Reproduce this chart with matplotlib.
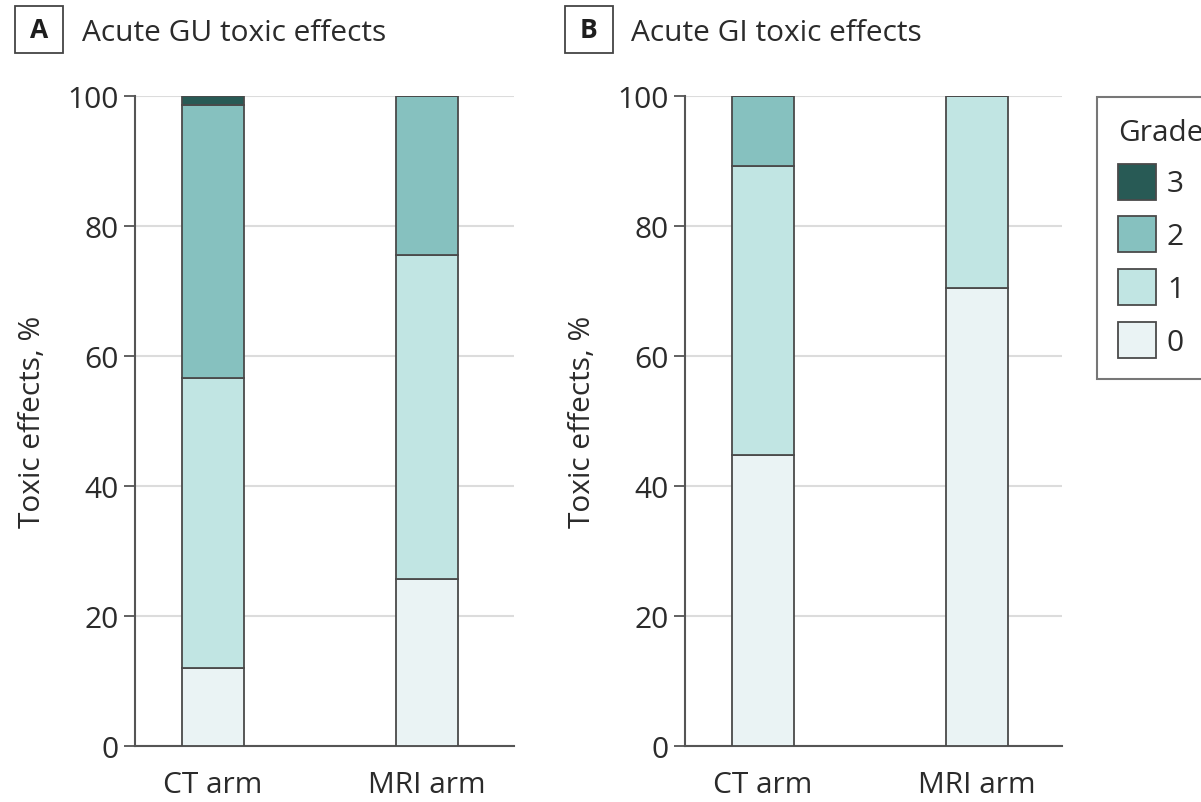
import matplotlib
matplotlib.use("Agg")
import matplotlib.pyplot as plt
from matplotlib.patches import Patch, Rectangle

# Share of patients (%) by highest toxicity grade, per treatment arm
arms = ["CT arm", "MRI arm"]
grades = ["0", "1", "2", "3"]

gu_grade0 = [12.1, 25.7]
gu_grade1 = [44.5, 49.9]
gu_grade2 = [42.1, 24.4]
gu_grade3 = [1.3, 0.0]

gi_grade0 = [44.8, 70.5]
gi_grade1 = [44.5, 29.5]
gi_grade2 = [10.7, 0.0]
gi_grade3 = [0.0, 0.0]

yticks = [0, 20, 40, 60, 80, 100]

grade_colors = ["#eaf3f4", "#c1e5e3", "#86c1bf", "#285a55"]
edge = "#4a4a4a"
text_color = "#2b2b2b"

plt.rcParams["font.family"] = ["Open Sans", "DejaVu Sans"]
plt.rcParams["font.size"] = 21.5
plt.rcParams["text.color"] = text_color

W, H = 1201, 803
fig = plt.figure(figsize=(W / 100, H / 100), dpi=100)


def px_axes(x0, y_top, x1, y_bot):
    return fig.add_axes([x0 / W, 1 - y_bot / H, (x1 - x0) / W, (y_bot - y_top) / H])


def stacked(ax, layers, xmax):
    xs = range(len(arms))
    bottom = [0.0] * len(arms)
    for vals, color in zip(layers, grade_colors):
        ax.bar(xs, vals, width=0.293, bottom=bottom, color=color,
               edgecolor=edge, linewidth=1.3, zorder=3)
        bottom = [b + v for b, v in zip(bottom, vals)]
    ax.set_xlim(-0.364, xmax)
    ax.set_ylim(0, 100)
    ax.set_yticks(yticks)
    ax.set_xticks(list(xs))
    ax.set_xticklabels(arms)
    ax.yaxis.grid(True, color="#dcdcdc", linewidth=1.5, zorder=0)
    ax.set_axisbelow(True)
    for s in ["top", "right"]:
        ax.spines[s].set_visible(False)
    for s in ["left", "bottom"]:
        ax.spines[s].set_color("#555555")
        ax.spines[s].set_linewidth(1.5)
    ax.tick_params(axis="y", direction="out", length=8, width=1.3,
                   color="#555555", pad=4, labelcolor=text_color)
    ax.tick_params(axis="x", length=0, pad=17, labelcolor=text_color)


ax_a = px_axes(135, 97.3, 514, 747.3)
stacked(ax_a, [gu_grade0, gu_grade1, gu_grade2, gu_grade3], 1.407)

ax_b = px_axes(685, 97.3, 1062, 747.3)
stacked(ax_b, [gi_grade0, gi_grade1, gi_grade2, gi_grade3], 1.397)

# y-axis titles
for xc in (33, 583):
    fig.text(xc / W, 1 - 422 / H, "Toxic effects, %", rotation=90,
             ha="center", va="center")

# panel letters in boxes plus panel titles
for letter, bx, tx, title in [("A", 15, 82, "Acute GU toxic effects"),
                              ("B", 565, 631, "Acute GI toxic effects")]:
    fig.patches.append(Rectangle((bx / W, 1 - 54 / H), 48 / W, 47 / H,
                                 transform=fig.transFigure, fill=False,
                                 edgecolor="#444444", linewidth=1.3))
    fig.text((bx + 24) / W, 1 - 31 / H, letter, ha="center", va="center",
             fontsize=19, fontweight="bold", color="#1e1e1e")
    fig.text(tx / W, 1 - 41 / H, title, ha="left", va="baseline")

# legend runs off the right edge of the figure
handles = [Patch(facecolor=c, edgecolor=edge, linewidth=1.3, label=g)
           for g, c in zip(grades, grade_colors)][::-1]
leg = fig.legend(handles=handles, title="Grade", loc="upper left",
                 bbox_to_anchor=(1097 / W, 1 - 98 / H), frameon=True,
                 fancybox=False, handlelength=1.27, handleheight=1.476,
                 handletextpad=0.37, labelspacing=0.56, borderpad=0.7,
                 borderaxespad=0, alignment="left", fontsize=21.5,
                 title_fontsize=21.5)
leg.get_frame().set_edgecolor("#555555")
leg.get_frame().set_linewidth(1.5)

fig.savefig("out.png", dpi=100)
